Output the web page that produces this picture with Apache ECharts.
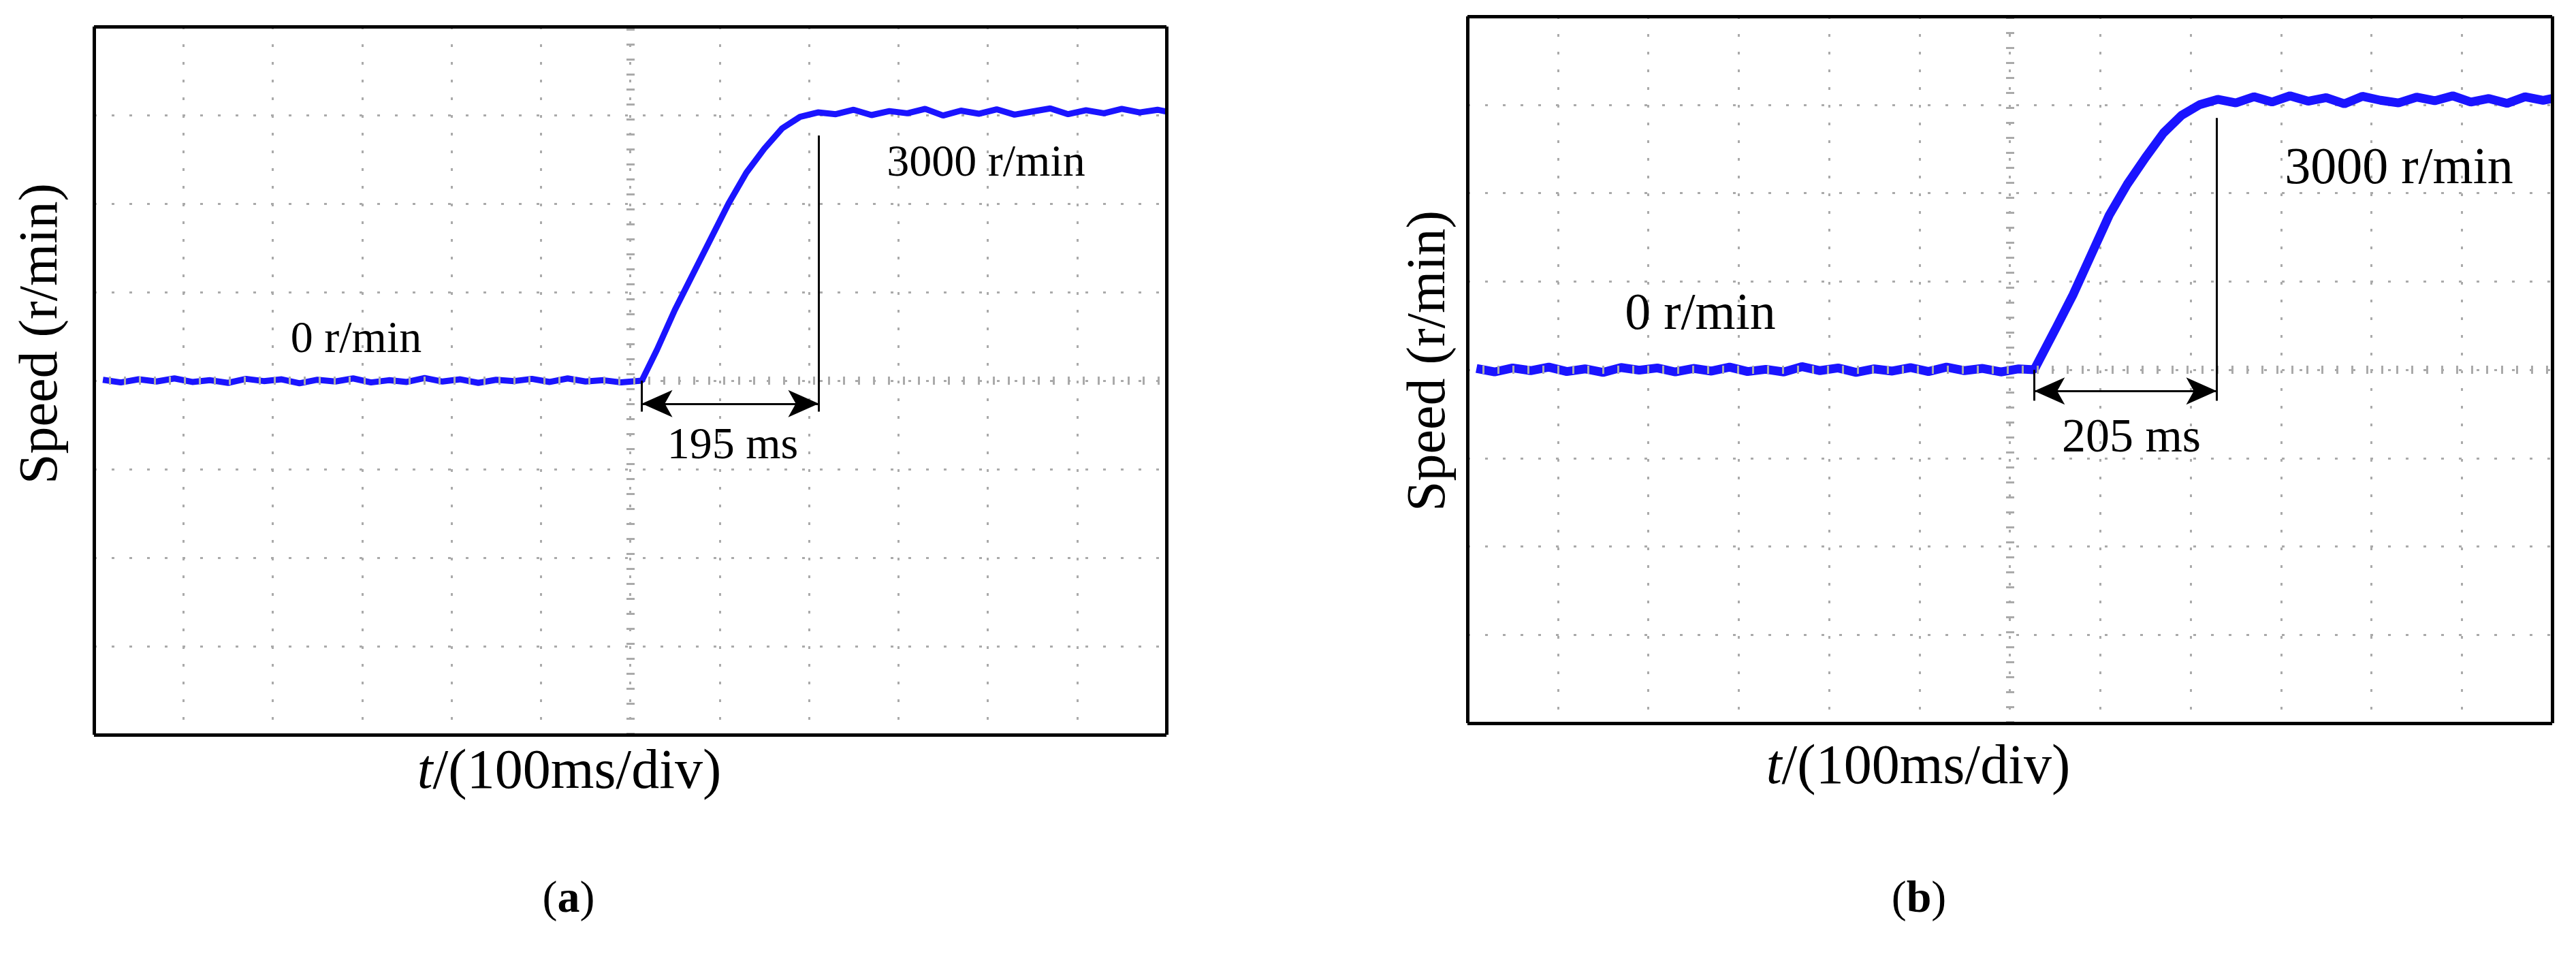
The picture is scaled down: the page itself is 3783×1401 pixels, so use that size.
<!DOCTYPE html>
<html>
<head>
<meta charset="utf-8">
<script src="https://cdn.jsdelivr.net/npm/echarts@6/dist/echarts.min.js"></script>
<style>html,body{margin:0;padding:0;background:#fff}#main{width:3783px;height:1401px}</style>
</head>
<body>
<div id="main"></div>
<script>
// panel (a): time in ms, speed in r/min
var timeA = [10,30,50,70,90,110,130,150,170,190,210,230,250,270,290,310,330,350,370,390,410,430,450,470,490,510,530,550,570,590,613,630,650,670,690,710,730,750,770,790,810,830,850,870,890,910,930,950,970,990,1010,1030,1050,1070,1090,1110,1130,1150,1170,1190,1200];
var speedA = [10,-20,15,-10,25,-15,5,-25,20,-5,15,-30,10,-10,25,-20,5,-15,30,-10,15,-25,10,-5,20,-15,25,-10,5,-20,0,350,800,1200,1600,2000,2350,2620,2850,2980,3030,3010,3060,3000,3045,3020,3070,2995,3050,3015,3065,3005,3040,3075,3010,3055,3020,3070,3030,3060,3040];
// panel (b)
var timeB = [10,30,50,70,90,110,130,150,170,190,210,230,250,270,290,310,330,350,370,390,410,430,450,470,490,510,530,550,570,590,610,627,650,670,690,710,730,750,770,790,810,830,850,870,890,910,930,950,970,990,1010,1030,1050,1070,1090,1110,1130,1150,1170,1190,1200];
var speedB = [15,-25,20,-10,30,-20,10,-30,25,-5,20,-25,15,-15,30,-20,5,-25,35,-10,20,-30,10,-15,25,-20,30,-10,15,-25,10,0,450,850,1300,1750,2100,2400,2680,2880,3000,3060,3020,3090,3030,3100,3040,3080,3010,3095,3050,3020,3085,3045,3100,3030,3070,3015,3090,3050,3070];
var markA = {start: 613, end: 811, top: 2770, arrowY: -260, label: '195 ms'};
var markB = {start: 627, end: 829, top: 2850, arrowY: -240, label: '205 ms'};

function zip(xs, ys){
  var out = [];
  for (var i = 0; i < xs.length; i++) out.push([xs[i], ys[i]]);
  return out;
}

var grids = [
  {left: 138, top: 39, width: 1575, height: 1040},
  {left: 2155, top: 24, width: 1593, height: 1038}
];
var gridLine = {show: true, lineStyle: {color: '#aaaaaa', width: 3, type: [4, 22]}};

var xAxes = [], yAxes = [], series = [];
[markA, markB].forEach(function (m, i) {
  xAxes.push({gridIndex: i, type: 'value', min: 0, max: 1200, interval: 100,
    axisLine: {show: false}, axisTick: {show: false}, axisLabel: {show: false}, splitLine: gridLine});
  yAxes.push({gridIndex: i, type: 'value', min: -4000, max: 4000, interval: 1000,
    axisLine: {show: false}, axisTick: {show: false}, axisLabel: {show: false}, splitLine: gridLine});
  // centre cross lines and frame
  series.push({type: 'line', xAxisIndex: i, yAxisIndex: i, data: [], silent: true, z: 3,
    markLine: {symbol: 'none', silent: true, label: {show: false},
      lineStyle: {color: '#aaaaaa', width: 12, type: [3, 19]},
      data: [{xAxis: 600}, {yAxis: 0}]}});
  series.push({type: 'line', xAxisIndex: i, yAxisIndex: i, data: [], silent: true, z: 6,
    markLine: {symbol: 'none', silent: true, label: {show: false},
      lineStyle: {color: '#000', width: 5, type: 'solid'},
      data: [{xAxis: 0}, {xAxis: 1200}, {yAxis: -4000}, {yAxis: 4000}]}});
  // markers
  series.push({type: 'line', xAxisIndex: i, yAxisIndex: i, data: [], silent: true, z: 5,
    markLine: {silent: true, label: {show: false}, lineStyle: {color: '#000', width: 3, type: 'solid'},
      data: [
        [{coord: [m.end, m.top], symbol: 'none'}, {coord: [m.end, -350], symbol: 'none'}],
        [{coord: [m.start, 0], symbol: 'none'}, {coord: [m.start, -350], symbol: 'none'}],
        [{coord: [m.start, m.arrowY], symbol: 'arrow'}, {coord: [m.end, m.arrowY], symbol: 'arrow'}]
      ], symbolSize: [30, 45]}});
});
series.push({type: 'line', xAxisIndex: 0, yAxisIndex: 0, data: zip(timeA, speedA), showSymbol: false,
  lineStyle: {color: '#1a14ff', width: 9}, z: 4});
series.push({type: 'line', xAxisIndex: 1, yAxisIndex: 1, data: zip(timeB, speedB), showSymbol: false,
  lineStyle: {color: '#1a14ff', width: 13}, z: 4});

function label(x, y, s, size, rot){
  return {type: 'text', x: x, y: y, rotation: rot || 0, z: 10,
    style: {text: s, font: size + 'px "Liberation Serif"', fill: '#000', align: 'center', verticalAlign: 'middle'}};
}
var rich = {i: {fontStyle: 'italic', fontFamily: 'Liberation Serif', fontSize: 82}, n: {fontFamily: 'Liberation Serif', fontSize: 82}};
var richB = {b: {fontWeight: 'bold', fontFamily: 'Liberation Serif', fontSize: 66}, n: {fontFamily: 'Liberation Serif', fontSize: 66}};
var graphics = [
  label(62, 490, 'Speed (r/min)', 80, Math.PI / 2),
  label(2100, 530, 'Speed (r/min)', 80, Math.PI / 2),
  {type: 'text', x: 836, y: 1135, z: 10, style: {text: '{i|t}{n|/(100ms/div)}', rich: rich, align: 'center', verticalAlign: 'middle'}},
  {type: 'text', x: 2817, y: 1128, z: 10, style: {text: '{i|t}{n|/(100ms/div)}', rich: rich, align: 'center', verticalAlign: 'middle'}},
  {type: 'text', x: 835, y: 1322, z: 10, style: {text: '{n|(}{b|a}{n|)}', rich: richB, align: 'center', verticalAlign: 'middle'}},
  {type: 'text', x: 2818, y: 1322, z: 10, style: {text: '{n|(}{b|b}{n|)}', rich: richB, align: 'center', verticalAlign: 'middle'}},
  label(523, 500, '0 r/min', 66),
  label(1448, 241, '3000 r/min', 66),
  label(1076, 656, markA.label, 66),
  label(2497, 463, '0 r/min', 76),
  label(3523, 249, '3000 r/min', 76),
  label(3130, 645, markB.label, 70)
];

var chart = echarts.init(document.getElementById('main'));
chart.setOption({
  animation: false,
  backgroundColor: '#fff',
  grid: grids,
  xAxis: xAxes,
  yAxis: yAxes,
  series: series,
  graphic: graphics
});
</script>
</body>
</html>
